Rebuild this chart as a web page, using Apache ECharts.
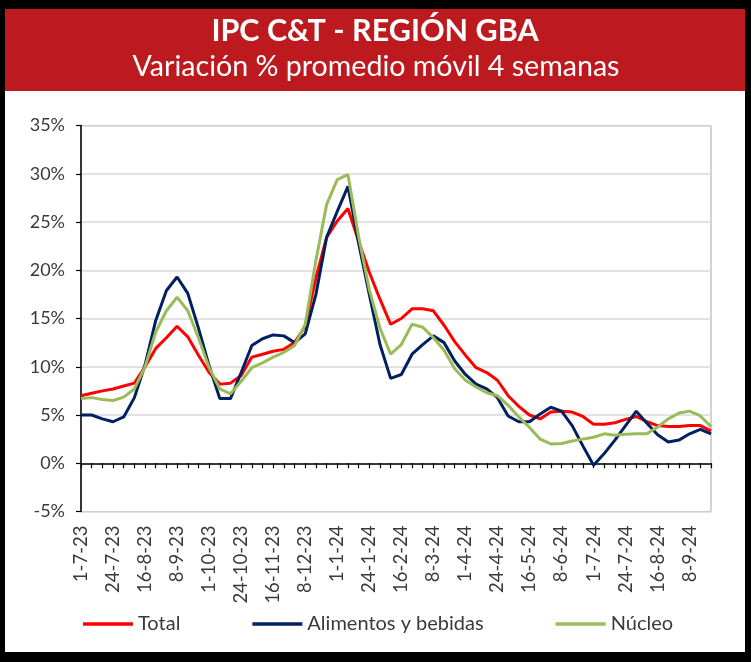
<!DOCTYPE html>
<html>
<head>
<meta charset="utf-8">
<script src="https://cdn.jsdelivr.net/npm/echarts@6/dist/echarts.min.js"></script>
<style>
html,body{margin:0;padding:0;background:#000;}
#chart{width:751px;height:662px;}
</style>
</head>
<body>
<div id="chart"></div>
<script>
const categories = [
  '1-7-23','8-7-23','16-7-23','24-7-23','1-8-23','8-8-23','16-8-23','24-8-23',
  '1-9-23','8-9-23','16-9-23','24-9-23','1-10-23','8-10-23','16-10-23','24-10-23',
  '1-11-23','8-11-23','16-11-23','24-11-23','1-12-23','8-12-23','16-12-23','24-12-23',
  '1-1-24','8-1-24','16-1-24','24-1-24','1-2-24','8-2-24','16-2-24','24-2-24',
  '1-3-24','8-3-24','16-3-24','24-3-24','1-4-24','8-4-24','16-4-24','24-4-24',
  '1-5-24','8-5-24','16-5-24','24-5-24','1-6-24','8-6-24','16-6-24','24-6-24',
  '1-7-24','8-7-24','16-7-24','24-7-24','1-8-24','8-8-24','16-8-24','24-8-24',
  '1-9-24','8-9-24','16-9-24','24-9-24'
];
const total = [
  7.0,7.25,7.5,7.7,8.0,8.3,10.0,11.9,13.0,14.2,
  13.1,11.2,9.4,8.2,8.3,9.1,11.0,11.3,11.6,11.8,
  12.5,14.2,19.2,23.4,25.1,26.4,23.0,19.8,17.0,14.4,
  15.0,16.0,16.0,15.8,14.3,12.6,11.2,9.9,9.4,8.6,
  7.0,5.9,5.0,4.6,5.3,5.4,5.3,4.85,4.05,4.05,
  4.2,4.55,4.85,4.3,3.9,3.8,3.8,3.9,3.9,3.35
];
const alimentos = [
  5.0,5.0,4.6,4.3,4.8,6.8,10.2,14.8,17.9,19.3,
  17.6,14.0,10.1,6.7,6.7,9.4,12.2,12.9,13.3,13.2,
  12.5,13.4,17.5,23.4,26.1,28.7,22.8,17.5,12.3,8.8,
  9.2,11.3,12.3,13.2,12.5,10.6,9.2,8.2,7.7,6.8,
  4.9,4.3,4.3,5.1,5.8,5.4,3.9,1.8,-0.2,1.0,
  2.4,3.9,5.4,4.15,2.95,2.2,2.4,3.05,3.5,3.05
];
const nucleo = [
  6.7,6.8,6.6,6.5,6.85,7.7,10.0,13.6,15.8,17.2,
  15.8,13.0,9.9,7.7,7.2,8.5,9.9,10.4,11.0,11.5,
  12.2,14.4,21.0,26.8,29.4,29.9,23.5,18.0,14.0,11.3,
  12.3,14.4,14.1,13.0,11.7,9.8,8.6,7.9,7.3,7.0,
  6.0,4.8,3.7,2.5,2.0,2.05,2.3,2.5,2.7,3.05,
  2.9,3.0,3.05,3.05,3.75,4.6,5.2,5.4,4.9,3.8
];
const seriesNames = ['Total','Alimentos y bebidas','Núcleo'];
const titleText = 'IPC C&T - REGIÓN GBA';
const subtitleText = 'Variación % promedio móvil 4 semanas';

const chart = echarts.init(document.getElementById('chart'), null, {renderer:'canvas'});
const font = 'Lato';
const txtColor = '#3a3a3a';
chart.setOption({
  backgroundColor: '#000',
  animation: false,
  graphic: [
    {type:'rect', shape:{x:5,y:9,width:740,height:643}, style:{fill:'#fff'}, z:-10},
    {type:'rect', shape:{x:5,y:9,width:740,height:82}, style:{fill:'#BD1A1F'}, z:-9},
    {type:'text', x:375, y:31, style:{text:titleText, fill:'#fff', font:'bold 30.5px Lato', textAlign:'center', textVerticalAlign:'middle'}},
    {type:'text', x:376, y:67, style:{text:subtitleText, fill:'#fff', font:'28.6px Lato', textAlign:'center', textVerticalAlign:'middle'}}
  ],
  grid: {left:81, right:40, top:125.5, bottom:150.5, show:true, borderColor:'#a6a6a6', borderWidth:1, backgroundColor:'transparent'},
  legend: {
    data: seriesNames,
    left: 83, top: 614, padding: 0,
    icon: 'rect', itemWidth: 50, itemHeight: 3.5, itemGap: 72,
    textStyle: {fontFamily: font, fontSize: 20, color: txtColor}
  },
  xAxis: [
    {
      type:'category', data: categories, boundaryGap:false,
      axisLine:{show:true, onZero:true, lineStyle:{color:'#000', width:1.5}},
      axisTick:{show:true, interval:0, length:5, lineStyle:{color:'#000', width:1.2}},
      axisLabel:{show:false},
      splitLine:{show:false}
    },
    {
      type:'category', data: categories, boundaryGap:false, position:'bottom',
      axisLine:{show:false, onZero:false}, axisTick:{show:false},
      axisLabel:{show:true, interval:2, rotate:90, margin:14, fontFamily:font, fontSize:18.5, color:txtColor},
      splitLine:{show:false}
    }
  ],
  yAxis: {
    type:'value', min:-5, max:35, interval:5,
    axisLine:{show:true, lineStyle:{color:'#000', width:1.5}},
    axisTick:{show:true, length:5, lineStyle:{color:'#000', width:1.2}},
    axisLabel:{formatter:'{value}%', margin:16, fontFamily:font, fontSize:18, color:txtColor},
    splitLine:{show:true, lineStyle:{color:'#d9d9d9', width:1.5}}
  },
  series: [
    {name:seriesNames[0], type:'line', data: total, xAxisIndex:0, showSymbol:false, symbol:'none', lineStyle:{color:'#FF0000', width:3}, itemStyle:{color:'#FF0000'}},
    {name:seriesNames[1], type:'line', data: alimentos, xAxisIndex:0, showSymbol:false, symbol:'none', lineStyle:{color:'#002060', width:3}, itemStyle:{color:'#002060'}},
    {name:seriesNames[2], type:'line', data: nucleo, xAxisIndex:0, showSymbol:false, symbol:'none', lineStyle:{color:'#9BBB59', width:3}, itemStyle:{color:'#9BBB59'}}
  ]
});
</script>
</body>
</html>
